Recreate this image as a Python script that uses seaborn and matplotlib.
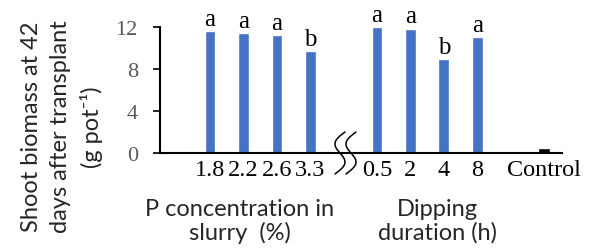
import numpy as np
import matplotlib
matplotlib.use('Agg')
import matplotlib.pyplot as plt
import seaborn as sns

# data
p_conc = ['1.8', '2.2', '2.6', '3.3']
p_biomass = [11.6, 11.43, 11.24, 9.68]
p_letters = ['a', 'a', 'a', 'b']

dip_dur = ['0.5', '2', '4', '8']
dip_biomass = [12.0, 11.84, 8.95, 11.02]
dip_letters = ['a', 'a', 'b', 'a']

control_label = ['Control']
control_biomass = [0.45]

# category slots, with empty gaps between the groups
order = p_conc + ['gap1'] + dip_dur + ['gap2'] + control_label

sns.set_theme(style='white')
serif = ['Liberation Serif', 'DejaVu Serif']
sans = ['Lato', 'DejaVu Sans']

fig = plt.figure(figsize=(5.89, 2.51), dpi=100)
ax = fig.add_axes([160/589, 1-154/251, 402/589, 149/251])

sns.barplot(x=p_conc + dip_dur, y=p_biomass + dip_biomass, order=order,
            color='#4472C4', saturation=1, width=0.32, errorbar=None, ax=ax)
sns.barplot(x=control_label, y=control_biomass, order=order,
            color='black', saturation=1, width=0.36, errorbar=None, ax=ax)

# significance letters above bars
for cats, vals, lets in [(p_conc, p_biomass, p_letters), (dip_dur, dip_biomass, dip_letters)]:
    for c, v, l in zip(cats, vals, lets):
        ax.annotate(l, (order.index(c), v), xytext=(0, 1), textcoords='offset points',
                    ha='center', va='bottom', fontsize=18, family=serif, color='black')

ax.set_xlim(-1.5, 10.54)
ax.set_ylim(0, 14.2)
ax.set_yticks([0, 4, 8, 12])
ax.set_xticks(range(len(order)))
ax.set_xticklabels(['' if o.startswith('gap') else o for o in order])
ax.set_xlabel('')
ax.set_ylabel('')

for s in ['top', 'right']:
    ax.spines[s].set_visible(False)
for s in ['left', 'bottom']:
    ax.spines[s].set_color('black')
    ax.spines[s].set_linewidth(1.5)
ax.spines['left'].set_bounds(0, 12)

ax.tick_params(axis='x', length=0, pad=4)
ax.tick_params(axis='y', length=5, width=1.2, direction='out', pad=11, left=True, colors='black')
for t in ax.get_xticklabels():
    t.set_fontfamily(serif)
    t.set_fontsize(17.5)
    t.set_color('black')
for t in ax.get_yticklabels():
    t.set_fontfamily(serif)
    t.set_fontsize(16)
    t.set_color('#595959')

# axis break marks
t = np.linspace(0, 1, 80)
for xc in [3.89, 4.22]:
    xs = xc + 0.3*(0.5 - t) - 0.22*np.sin(2*np.pi*t)
    ys = 2.0 - 4.0*t
    ax.plot(xs, ys, color='black', lw=1.1, clip_on=False)

# group labels and y label
fig.text(240/589, 1-199/251, 'P concentration in\nslurry  (%)', ha='center', va='top',
         fontsize=17, family=sans, linespacing=1.1)
fig.text(437/589, 1-199/251, 'Dipping\nduration (h)', ha='center', va='top',
         fontsize=17, family=sans, linespacing=1.1)
fig.text(62/589, 0.494, 'Shoot biomass at 42\ndays after transplant\n(g pot\u207b\u00b9)',
         rotation=90, ha='center', va='center', fontsize=17, family=sans, linespacing=1.45)

fig.savefig('out.png', dpi=100)
